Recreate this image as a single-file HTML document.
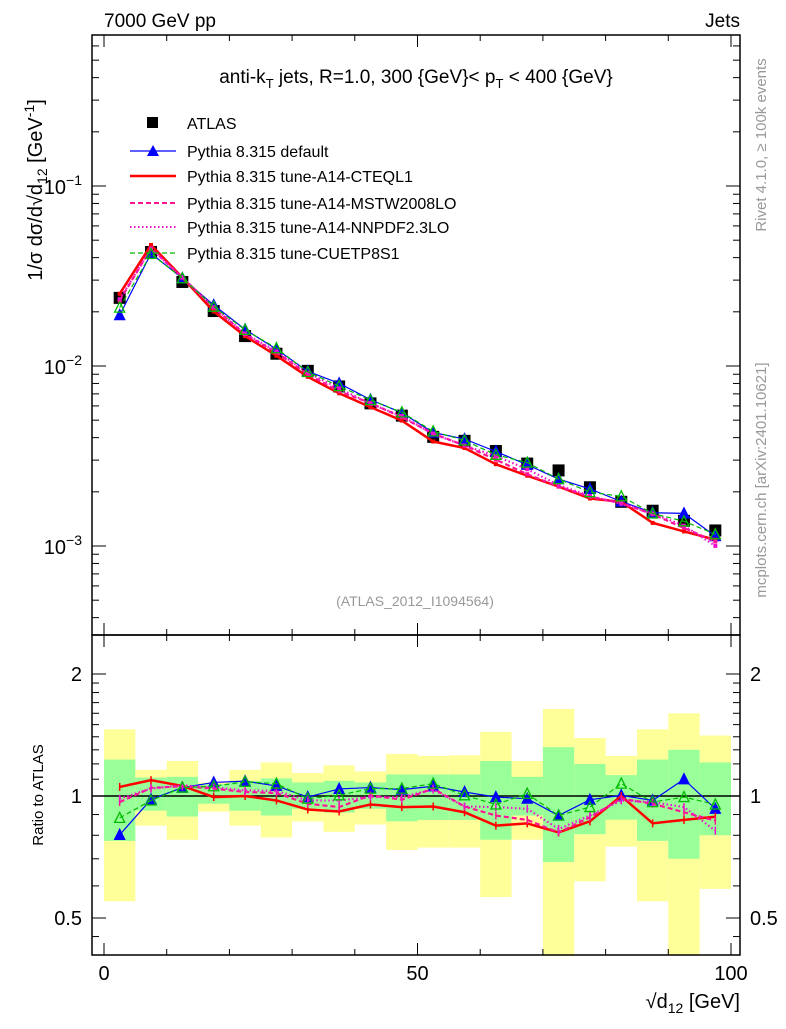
<!DOCTYPE html>
<html><head><meta charset="utf-8"><style>
body{margin:0;background:#fff;}
svg text{font-family:"Liberation Sans",sans-serif;}
</style></head><body>
<svg id="c" width="786" height="1024" xmlns="http://www.w3.org/2000/svg"></svg>
<script>
const binEdges=[0,5,10,15,20,25,30,35,40,45,50,55,60,65,70,75,80,85,90,95,100];
const dataVals=[0.0239,0.0430,0.0293,0.0202,0.01466,0.0117,0.0094,0.0077,0.0062,0.0053,0.00404,0.00384,0.00337,0.00287,0.00263,0.00212,0.00176,0.00157,0.00138,0.00122];
const rDefault=[0.802,0.981,1.049,1.080,1.088,1.059,0.994,1.041,1.049,1.037,1.057,1.023,0.994,0.985,0.895,0.979,1.004,0.975,1.10,0.93];
const rCTEQ=[1.053,1.094,1.059,0.994,1.0,0.975,0.926,0.916,0.953,0.939,0.942,0.912,0.845,0.856,0.813,0.866,1.0,0.856,0.873,0.889];
const rMSTW=[0.966,1.047,1.057,1.043,1.023,1.017,0.957,0.939,1.004,0.979,1.043,0.942,0.895,0.873,0.813,0.886,0.985,0.957,0.912,0.869];
const rNNPDF=[0.985,1.043,1.063,1.049,1.033,1.029,0.975,0.975,0.994,0.994,1.037,0.942,0.939,0.93,0.829,0.895,0.975,0.966,0.939,0.821];
const rCUETP=[0.883,0.975,1.049,1.057,1.084,1.073,0.985,1.004,1.043,1.043,1.073,1.004,0.953,1.013,0.895,0.939,1.073,0.966,0.994,0.953];
const yelHi=[1.46,1.16,1.22,1.08,1.16,1.21,1.14,1.19,1.15,1.27,1.256,1.26,1.44,1.22,1.64,1.39,1.256,1.46,1.6,1.41];
const yelLo=[0.55,0.845,0.78,0.915,0.845,0.79,0.865,0.816,0.85,0.736,0.746,0.746,0.563,0.78,0.3,0.616,0.75,0.55,0.404,0.59];
const grnHi=[1.23,1.11,1.115,1.07,1.09,1.105,1.08,1.09,1.08,1.13,1.13,1.13,1.22,1.115,1.32,1.2,1.126,1.23,1.30,1.21];
const grnLo=[0.775,0.92,0.89,0.957,0.92,0.895,0.93,0.91,0.93,0.866,0.873,0.873,0.78,0.895,0.687,0.805,0.874,0.775,0.70,0.80];
const xTicks=[0,50,100];

const L=92,R=740,T=35,M=635,B=955;
const X=v=>104+v*6.27;
const Y=v=>186-180*Math.log10(v/0.1);
const RY=v=>796-122*Math.log2(v);
const svg=document.getElementById('c');
const NS='http://www.w3.org/2000/svg';
function mk(tag,attrs,parent){const e=document.createElementNS(NS,tag);for(const k in attrs)e.setAttribute(k,attrs[k]);(parent||svg).appendChild(e);return e;}
function clampR(v){return Math.max(0.403,Math.min(2.48,v));}

const bands=mk('g',{});


for(let i=0;i<dataVals.length;i++){
  const x0=X(binEdges[i]),x1=X(binEdges[i+1]);
  const y1=RY(clampR(yelHi[i])),y2=RY(clampR(yelLo[i]));
  const r=mk('rect',{x:x0,y:y1,width:x1-x0,height:y2-y1,fill:'#ffff99'},bands);
  
  
  const g1=RY(grnHi[i]),g2=RY(grnLo[i]);
  const g=mk('rect',{x:x0,y:g1,width:x1-x0,height:g2-g1,fill:'#99ff99'},bands);
  
  
}
mk('line',{x1:L,x2:R,y1:RY(1),y2:RY(1),stroke:'#000','stroke-width':1.5});

const centers=dataVals.map((_,i)=>(binEdges[i]+binEdges[i+1])/2);
const series=[
 {name:'default',r:rDefault,color:'#0000ff',w:1.2,dash:'',marker:'tri'},
 {name:'a14-cteql1',r:rCTEQ,color:'#ff0000',w:2.5,dash:'',marker:'none'},
 {name:'a14-mstw2008lo',r:rMSTW,color:'#ff1493',w:2.2,dash:'5,3',marker:'none'},
 {name:'a14-nnpdf23lo',r:rNNPDF,color:'#ee11cc',w:2.2,dash:'1.5,2.5',marker:'none'},
 {name:'cuetp8s1',r:rCUETP,color:'#00bb00',w:1.2,dash:'5,3',marker:'otri'}
];
function tri(x,y,filled,color,parent){
  const p=mk('polygon',{points:`${x},${y-5.5} ${x-5},${y+4.5} ${x+5},${y+4.5}`,fill:filled?color:'none',stroke:color,'stroke-width':1.3},parent);
  
  
}
const dg=mk('g',{});


dataVals.forEach((v,i)=>{
  const s=mk('rect',{x:X(centers[i])-6,y:Y(v)-6,width:12,height:12,fill:'#000'},dg);
  
  
});
series.forEach(s=>{
  const gm=mk('g',{});
  
  
  const pts=dataVals.map((v,i)=>X(centers[i])+','+Y(v*s.r[i])).join(' ');
  mk('polyline',{points:pts,fill:'none',stroke:s.color,'stroke-width':s.w,'stroke-dasharray':s.dash},gm);
  const gr=mk('g',{});
  
  
  const rp=s.r.map((v,i)=>X(centers[i])+','+RY(v)).join(' ');
  mk('polyline',{points:rp,fill:'none',stroke:s.color,'stroke-width':s.w,'stroke-dasharray':s.dash},gr);
  s.r.forEach((v,i)=>{
    const x=X(centers[i]);
    if(s.marker==='none'){
      mk('line',{x1:x,x2:x,y1:RY(v)-4,y2:RY(v)+4,stroke:s.color,'stroke-width':1.5},gr);
      mk('rect',{x:x-2,y:Y(dataVals[i]*v)-2,width:4,height:4,fill:s.color},gm);
    } else {
      tri(x,RY(v),s.marker==='tri',s.color,gr);
      tri(x,Y(dataVals[i]*v),s.marker==='tri',s.color,gm);
    }
  });
});

mk('rect',{x:L,y:T,width:R-L,height:M-T,fill:'none',stroke:'#000','stroke-width':1.5});
mk('rect',{x:L,y:M,width:R-L,height:B-M,fill:'none',stroke:'#000','stroke-width':1.5});
for(let v=0;v<=100;v+=10){
  const len=(v%50===0)?12:6, x=X(v);
  [[B,-1],[M,1],[M,-1],[T,1]].forEach(([y,d])=>mk('line',{x1:x,x2:x,y1:y,y2:y+d*len,stroke:'#000','stroke-width':1}));
}
xTicks.forEach(v=>{const t=mk('text',{x:X(v),y:980,'font-size':20,'text-anchor':'middle'});t.textContent=v;
});
for(let e=-4;e<=0;e++){for(let m=1;m<10;m++){const v=m*Math.pow(10,e);const y=Y(v);if(y<T||y>M)continue;
 const len=m===1?14:7;mk('line',{x1:L,x2:L+len,y1:y,y2:y,stroke:'#000'});mk('line',{x1:R,x2:R-len,y1:y,y2:y,stroke:'#000'});}}
[['1','−1'],['2','−2'],['3','−3']].forEach(([e,s])=>{
 const t=mk('text',{x:82,y:Y(Math.pow(10,-e))+8,'font-size':20,'text-anchor':'end'});
 t.innerHTML='10<tspan dy="-9" font-size="14">'+s+'</tspan>';
 });
[0.5,0.6,0.7,0.8,0.9,1,2,1.5,1.1,1.2,1.3,1.4,1.6,1.7,1.8,1.9,0.45].forEach(v=>{const y=RY(v);const len=(v===0.5||v===1||v===2)?14:7;
 mk('line',{x1:L,x2:L+len,y1:y,y2:y,stroke:'#000'});mk('line',{x1:R,x2:R-len,y1:y,y2:y,stroke:'#000'});});
[[0.5,'0.5'],[1,'1'],[2,'2']].forEach(([v,s])=>{
 let t=mk('text',{x:82,y:RY(v)+7,'font-size':20,'text-anchor':'end'});t.textContent=s;
 
 t=mk('text',{x:750,y:RY(v)+7,'font-size':20});t.textContent=s;
 });
</script>
<svg width="786" height="1024" style="position:absolute;left:0;top:0" xmlns="http://www.w3.org/2000/svg">
<text x="104" y="27" font-size="19">7000 GeV pp</text>
<text x="740" y="27" font-size="19" text-anchor="end">Jets</text>
<text x="416" y="83" font-size="19" text-anchor="middle">anti-k<tspan font-size="13" dy="5">T</tspan><tspan dy="-5"> jets, R=1.0, 300 {GeV}&lt; p</tspan><tspan font-size="13" dy="5">T</tspan><tspan dy="-5"> &lt; 400 {GeV}</tspan></text>
<g font-size="16">
<rect x="147" y="117" width="11" height="11" fill="#000"/>
<text x="187" y="129">ATLAS</text>
<line x1="130" x2="176" y1="151" y2="151" stroke="#0000ff" stroke-width="1.3"/><polygon points="153,145 147,156 159,156" fill="#0000ff"/>
<text x="187" y="157">Pythia 8.315 default</text>
<line x1="130" x2="176" y1="176" y2="176" stroke="#ff0000" stroke-width="2.5"/>
<text x="187" y="182">Pythia 8.315 tune-A14-CTEQL1</text>
<line x1="130" x2="176" y1="203" y2="203" stroke="#ff1493" stroke-width="2" stroke-dasharray="5,3"/>
<text x="187" y="209">Pythia 8.315 tune-A14-MSTW2008LO</text>
<line x1="130" x2="176" y1="227" y2="227" stroke="#ee11cc" stroke-width="2" stroke-dasharray="1.5,2.5"/>
<text x="187" y="233">Pythia 8.315 tune-A14-NNPDF2.3LO</text>
<line x1="130" x2="176" y1="253" y2="253" stroke="#00bb00" stroke-width="1.2" stroke-dasharray="5,3"/>
<text x="187" y="259">Pythia 8.315 tune-CUETP8S1</text>
</g>
<text x="415" y="606" font-size="14" fill="#999" text-anchor="middle">(ATLAS_2012_I1094564)</text>
<text transform="translate(42,190) rotate(-90)" font-size="20" text-anchor="middle">1/σ dσ/d√d<tspan font-size="14" dy="5">12</tspan><tspan dy="-5"> [GeV</tspan><tspan font-size="14" dy="-8">-1</tspan><tspan dy="8">]</tspan></text>
<text transform="translate(43,795) rotate(-90)" font-size="15" text-anchor="middle">Ratio to ATLAS</text>
<text transform="translate(766,145) rotate(-90)" font-size="15" fill="#999" text-anchor="middle">Rivet 4.1.0, ≥ 100k events</text>
<text transform="translate(766,480) rotate(-90)" font-size="15" fill="#999" text-anchor="middle">mcplots.cern.ch [arXiv:2401.10621]</text>
<text x="740" y="1008" font-size="20" text-anchor="end">√d<tspan font-size="14" dy="5">12</tspan><tspan dy="-5"> [GeV]</tspan></text>
</svg>
</body></html>
